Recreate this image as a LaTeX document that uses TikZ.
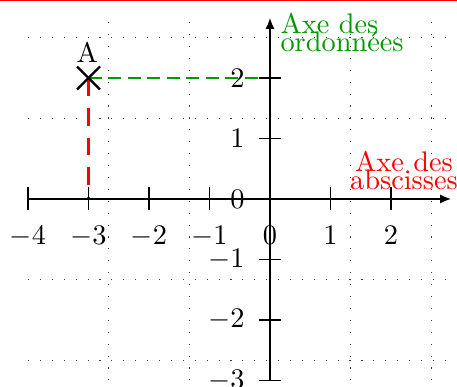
\documentclass[tikz,border=0pt]{standalone}
\usetikzlibrary{arrows.meta}
\definecolor{ordgreen}{rgb}{0,0.6,0}
\begin{document}
\begin{tikzpicture}[x=0.75cm,y=0.75cm,
  gridline/.style={line width=0.4pt, dash pattern=on 0.4pt off 3.8pt, black!75},
  axisline/.style={line width=0.8pt, -{Latex[length=4pt,width=3.2pt]}},
  tickmark/.style={line width=0.6pt},
  xticklabel/.style={inner sep=0pt, anchor=base},
  yticklabel/.style={inner sep=0pt, anchor=east},
  reddash/.style={red, line width=0.8pt, dash pattern=on 6.3pt off 4.2pt},
  greendash/.style={ordgreen, line width=0.8pt, dash pattern=on 4.6pt off 2.3pt},
  crossline/.style={line width=0.8pt},
  axelabel/.style={inner sep=0pt}]
\useasboundingbox (-4.463,-3.107) rectangle (3.091,3.289);
% top red rule
\coordinate (tl) at (-4.463,3.289);
\coordinate (tr) at (3.091,3.289);
\draw[red, line width=1pt] (tl) -- (tr);
% grid
\draw[gridline] (-4,-3) grid (3,3);
% point A projections
\coordinate (A) at (-3,2);
\coordinate (Ax) at (-3,0);
\coordinate (Ay) at (0,2);
\draw[reddash] (A) -- (Ax);
\draw[greendash] (A) -- (Ay);
% axes
\coordinate (xs) at (-4,0);
\coordinate (xe) at (3,0);
\coordinate (ys) at (0,-3);
\coordinate (ye) at (0,3);
\draw[axisline] (xs) -- (xe);
\draw[axisline] (ys) -- (ye);
% ticks
\foreach \x in {-4,-3,-2,-1,1,2}
  \draw[tickmark] (\x,0.19) -- (\x,-0.19);
\foreach \y in {-3,-2,-1,1,2}
  \draw[tickmark] (-0.19,\y) -- (0.19,\y);
% tick labels
\foreach[count=\i] \x in {-4,-3,-2,-1,0,1,2}
  \node[xticklabel] (xl\i) at (\x,-0.76) {$\x$};
\foreach[count=\i] \y in {-3,-2,-1,0,1,2}
  \node[yticklabel] (yl\i) at (-0.413,\y) {$\y$};
% axis names
\node[axelabel, anchor=base west, text=ordgreen] (ord1) at (0.165,2.74) {Axe des};
\node[axelabel, anchor=base west, text=ordgreen] (ord2) at (0.165,2.43) {ordonnées};
\node[axelabel, anchor=base, text=red] (abs1) at (2.215,0.446) {Axe des};
\node[axelabel, anchor=base, text=red] (abs2) at (2.215,0.149) {abscisses};
% point A
\draw[crossline] (A) ++(-0.19,-0.19) -- ++(0.38,0.38);
\draw[crossline] (A) ++(-0.19,0.19) -- ++(0.38,-0.38);
\node[inner sep=0pt] (Alab) at (-3.02,2.42) {A};
\end{tikzpicture}
\end{document}
